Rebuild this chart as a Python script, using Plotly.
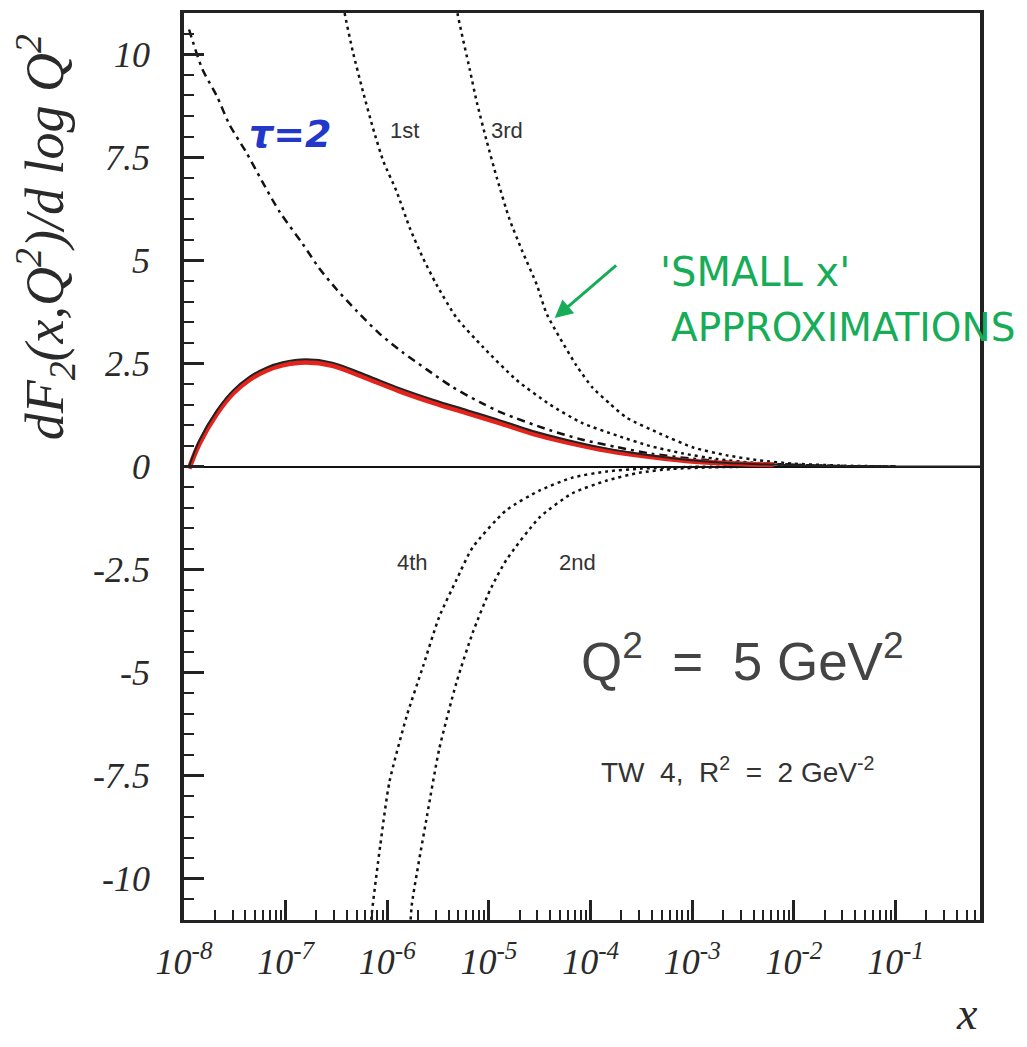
import numpy as np
import plotly.graph_objects as go

# ---- data (x given as log10 x) ----
full_logx = [-7.95, -7.85, -7.68, -7.52, -7.36, -7.19, -7.03, -6.80, -6.54, -6.21,
             -5.88, -5.55, -5.22, -4.89, -4.57, -4.24, -3.91, -3.58, -3.25, -2.90,
             -2.50, -2.00, -1.50, -1.00, -0.17]
full_y = [0.0, 0.63, 1.35, 1.84, 2.17, 2.40, 2.53, 2.60, 2.52, 2.22,
          1.90, 1.62, 1.37, 1.12, 0.86, 0.65, 0.47, 0.33, 0.22, 0.13,
          0.07, 0.03, 0.008, 0.0, 0.0]

red_logx = [-7.95, -7.85, -7.68, -7.52, -7.36, -7.19, -7.03, -6.80, -6.54, -6.21,
            -5.88, -5.55, -5.22, -4.89, -4.57, -4.24, -3.91, -3.58, -3.25, -2.90, -2.50, -2.20]
red_y = [-0.05, 0.55, 1.27, 1.77, 2.10, 2.33, 2.46, 2.53, 2.45, 2.15,
         1.83, 1.55, 1.30, 1.05, 0.80, 0.59, 0.42, 0.29, 0.19, 0.11, 0.06, 0.04]

lead_logx = [-7.95, -7.92, -7.82, -7.68, -7.55, -7.39, -7.23, -7.06, -6.83, -6.67,
             -6.50, -6.30, -6.08, -5.85, -5.61, -5.36, -5.09, -4.87, -4.40, -4.08,
             -3.74, -3.40, -3.00, -2.50, -2.00, -1.50, -1.00]
lead_y = [10.6, 10.36, 9.64, 9.0, 8.28, 7.63, 6.91, 6.18, 5.39, 4.81,
          4.30, 3.77, 3.23, 2.77, 2.35, 1.93, 1.56, 1.30, 0.88, 0.65,
          0.47, 0.31, 0.19, 0.09, 0.04, 0.01, 0.0]

first_logx = [-6.45, -6.42, -6.34, -6.24, -6.14, -6.04, -5.91, -5.78, -5.65, -5.52,
              -5.32, -5.06, -4.73, -4.40, -4.08, -3.74, -3.42, -3.10, -2.76, -2.40,
              -2.00, -1.50, -1.00]
first_y = [11.5, 11.0, 10.07, 9.1, 8.2, 7.41, 6.68, 5.79, 5.06, 4.43,
           3.61, 2.9, 2.1, 1.5, 1.05, 0.75, 0.5, 0.32, 0.18, 0.09,
           0.04, 0.01, 0.0]

third_logx = [-5.33, -5.31, -5.19, -5.12, -5.02, -4.92, -4.80, -4.67, -4.53, -4.43,
              -4.14, -3.98, -3.81, -3.65, -3.32, -2.99, -2.66, -2.34, -2.01, -1.50, -1.00]
third_y = [11.5, 11.0, 9.64, 8.84, 7.87, 6.98, 6.01, 5.21, 4.41, 3.69,
           2.45, 1.91, 1.52, 1.19, 0.80, 0.46, 0.27, 0.15, 0.07, 0.02, 0.0]

fourth_logx = [-6.17, -6.155, -6.07, -5.98, -5.81, -5.65, -5.49, -5.32, -5.16, -4.83,
               -4.50, -4.18, -3.84, -3.50, -3.00, -2.50]
fourth_y = [-11.5, -10.9, -9.2, -7.66, -6.06, -4.86, -3.65, -2.75, -1.96, -1.06,
            -0.58, -0.27, -0.12, -0.05, -0.01, 0.0]

second_logx = [-5.78, -5.76, -5.61, -5.49, -5.32, -5.16, -4.99, -4.83, -4.50, -4.18,
               -3.84, -3.52, -3.20, -2.80, -2.30]
second_y = [-11.5, -10.65, -8.48, -6.86, -5.24, -4.03, -3.0, -2.27, -1.23, -0.65,
            -0.34, -0.15, -0.06, -0.02, 0.0]

x_major_vals = [1e-8, 1e-7, 1e-6, 1e-5, 1e-4, 1e-3, 1e-2, 1e-1]
x_major_text = ["10<sup>-8</sup>", "10<sup>-7</sup>", "10<sup>-6</sup>", "10<sup>-5</sup>",
                "10<sup>-4</sup>", "10<sup>-3</sup>", "10<sup>-2</sup>", "10<sup>-1</sup>"]
y_major_vals = [-10, -7.5, -5, -2.5, 0, 2.5, 5, 7.5, 10]
y_major_text = ["-10", "-7.5", "-5", "-2.5", "0", "2.5", "5", "7.5", "10"]

x_minor_vals = [k * 10.0 ** e for e in range(-8, 0) for k in range(2, 10)]


def X(lx):
    return np.power(10.0, np.array(lx))


fig = go.Figure()
dotted = "3px,4px"
fig.add_trace(go.Scatter(x=X(lead_logx), y=lead_y, mode="lines",
                         line=dict(color="#111", width=2.5, dash="8px,5px,3px,5px",
                                   shape="spline", smoothing=0.8)))
for lx, yy in [(first_logx, first_y), (third_logx, third_y),
               (fourth_logx, fourth_y), (second_logx, second_y)]:
    fig.add_trace(go.Scatter(x=X(lx), y=yy, mode="lines",
                             line=dict(color="#111", width=2.5, dash=dotted,
                                       shape="spline", smoothing=0.6)))
fig.add_trace(go.Scatter(x=X(red_logx), y=red_y, mode="lines",
                         line=dict(color="#e3231c", width=5, shape="spline")))
fig.add_trace(go.Scatter(x=X(full_logx), y=full_y, mode="lines",
                         line=dict(color="#222", width=2, shape="spline")))

axis_font = dict(family="Liberation Serif", size=36, style="italic", color="#2a2a2a")

fig.update_xaxes(type="log", range=[-8, -0.17], showline=True, linecolor="#222",
                 linewidth=3, mirror=True, ticks="inside", ticklen=20, tickwidth=2.5,
                 tickcolor="#222", tickmode="array", tickvals=x_major_vals,
                 ticktext=x_major_text, tickfont=axis_font, showgrid=False,
                 zeroline=False, ticklabelstandoff=8,
                 minor=dict(ticks="inside", ticklen=10, tickwidth=2, tickcolor="#222",
                            tickmode="array", tickvals=x_minor_vals, showgrid=False))
fig.update_yaxes(range=[-11, 11], showline=True, linecolor="#222", linewidth=3.5,
                 mirror=True, ticks="inside", ticklen=20, tickwidth=2.5,
                 tickcolor="#222", tickmode="array", tickvals=y_major_vals,
                 ticktext=y_major_text, tickfont=axis_font, showgrid=False,
                 zeroline=True, zerolinecolor="#111", zerolinewidth=1.5,
                 ticklabelstandoff=23,
                 minor=dict(ticks="inside", ticklen=10, tickwidth=2, tickcolor="#222",
                            dtick=0.5, tick0=0, showgrid=False))

NB = "\u00a0"
ann = []
lab_font = dict(family="Liberation Sans", size=22, color="#333")
for txt, lx, yv in [("1st", -5.83, 8.16), ("3rd", -4.82, 8.16),
                    ("4th", -5.75, -2.32), ("2nd", -4.13, -2.32)]:
    ann.append(dict(x=lx, y=yv, xref="x", yref="y", text=txt, showarrow=False,
                    font=lab_font, xanchor="center", yanchor="middle"))
ann.append(dict(x=0.7022, y=0.2890, xref="paper", yref="paper",
                text="Q<sup>2</sup>" + NB + NB + "=" + NB + NB + "5" + NB + "GeV<sup>2</sup>",
                showarrow=False, xanchor="center", yanchor="middle",
                font=dict(family="Liberation Sans", size=53, color="#444")))
ann.append(dict(x=0.695, y=0.165, xref="paper", yref="paper",
                text="TW" + NB + NB + "4," + NB + NB + "R<sup>2</sup>" + NB + NB + "=" + NB + NB
                     + "2" + NB + "GeV<sup>-2</sup>",
                showarrow=False, xanchor="center", yanchor="middle",
                font=dict(family="Liberation Sans", size=28, color="#333")))
ann.append(dict(x=0.1332, y=0.8662, xref="paper", yref="paper", text="<b><i>τ=2</i></b>",
                showarrow=False, xanchor="center", yanchor="middle",
                font=dict(family="DejaVu Sans", size=38, color="#2238c8")))
ann.append(dict(x=0.7170, y=0.714, xref="paper", yref="paper", text="'SMALL" + NB + "x'",
                showarrow=False, xanchor="center", yanchor="middle",
                font=dict(family="DejaVu Sans", size=40, color="#17ad58")))
ann.append(dict(x=0.8280, y=0.6538, xref="paper", yref="paper", text="APPROXIMATIONS",
                showarrow=False, xanchor="center", yanchor="middle",
                font=dict(family="DejaVu Sans", size=39, color="#17ad58")))
ann.append(dict(x=-4.354, y=3.6, xref="x", yref="y", text="", showarrow=True,
                ax=63, ay=-54, arrowcolor="#17ad58", arrowwidth=3, arrowhead=2,
                arrowsize=1.2))
ann.append(dict(x=-0.1746, y=0.7527, xref="paper", yref="paper", textangle=-90,
                text="dF<sub>2</sub>(x,Q<sup>2</sup>)/d log Q<sup>2</sup>", showarrow=False,
                xanchor="center", yanchor="middle",
                font=dict(family="Liberation Serif", size=54, style="italic", color="#2a2a2a")))
ann.append(dict(x=0.9837, y=-0.103, xref="paper", yref="paper", text="x",
                showarrow=False, xanchor="center", yanchor="middle",
                font=dict(family="Liberation Serif", size=46, style="italic", color="#2a2a2a")))

fig.update_layout(width=1027, height=1047, margin=dict(l=184, r=47, t=10, b=127),
                  plot_bgcolor="white", paper_bgcolor="white", showlegend=False,
                  annotations=ann)
fig.write_html("out.html")
